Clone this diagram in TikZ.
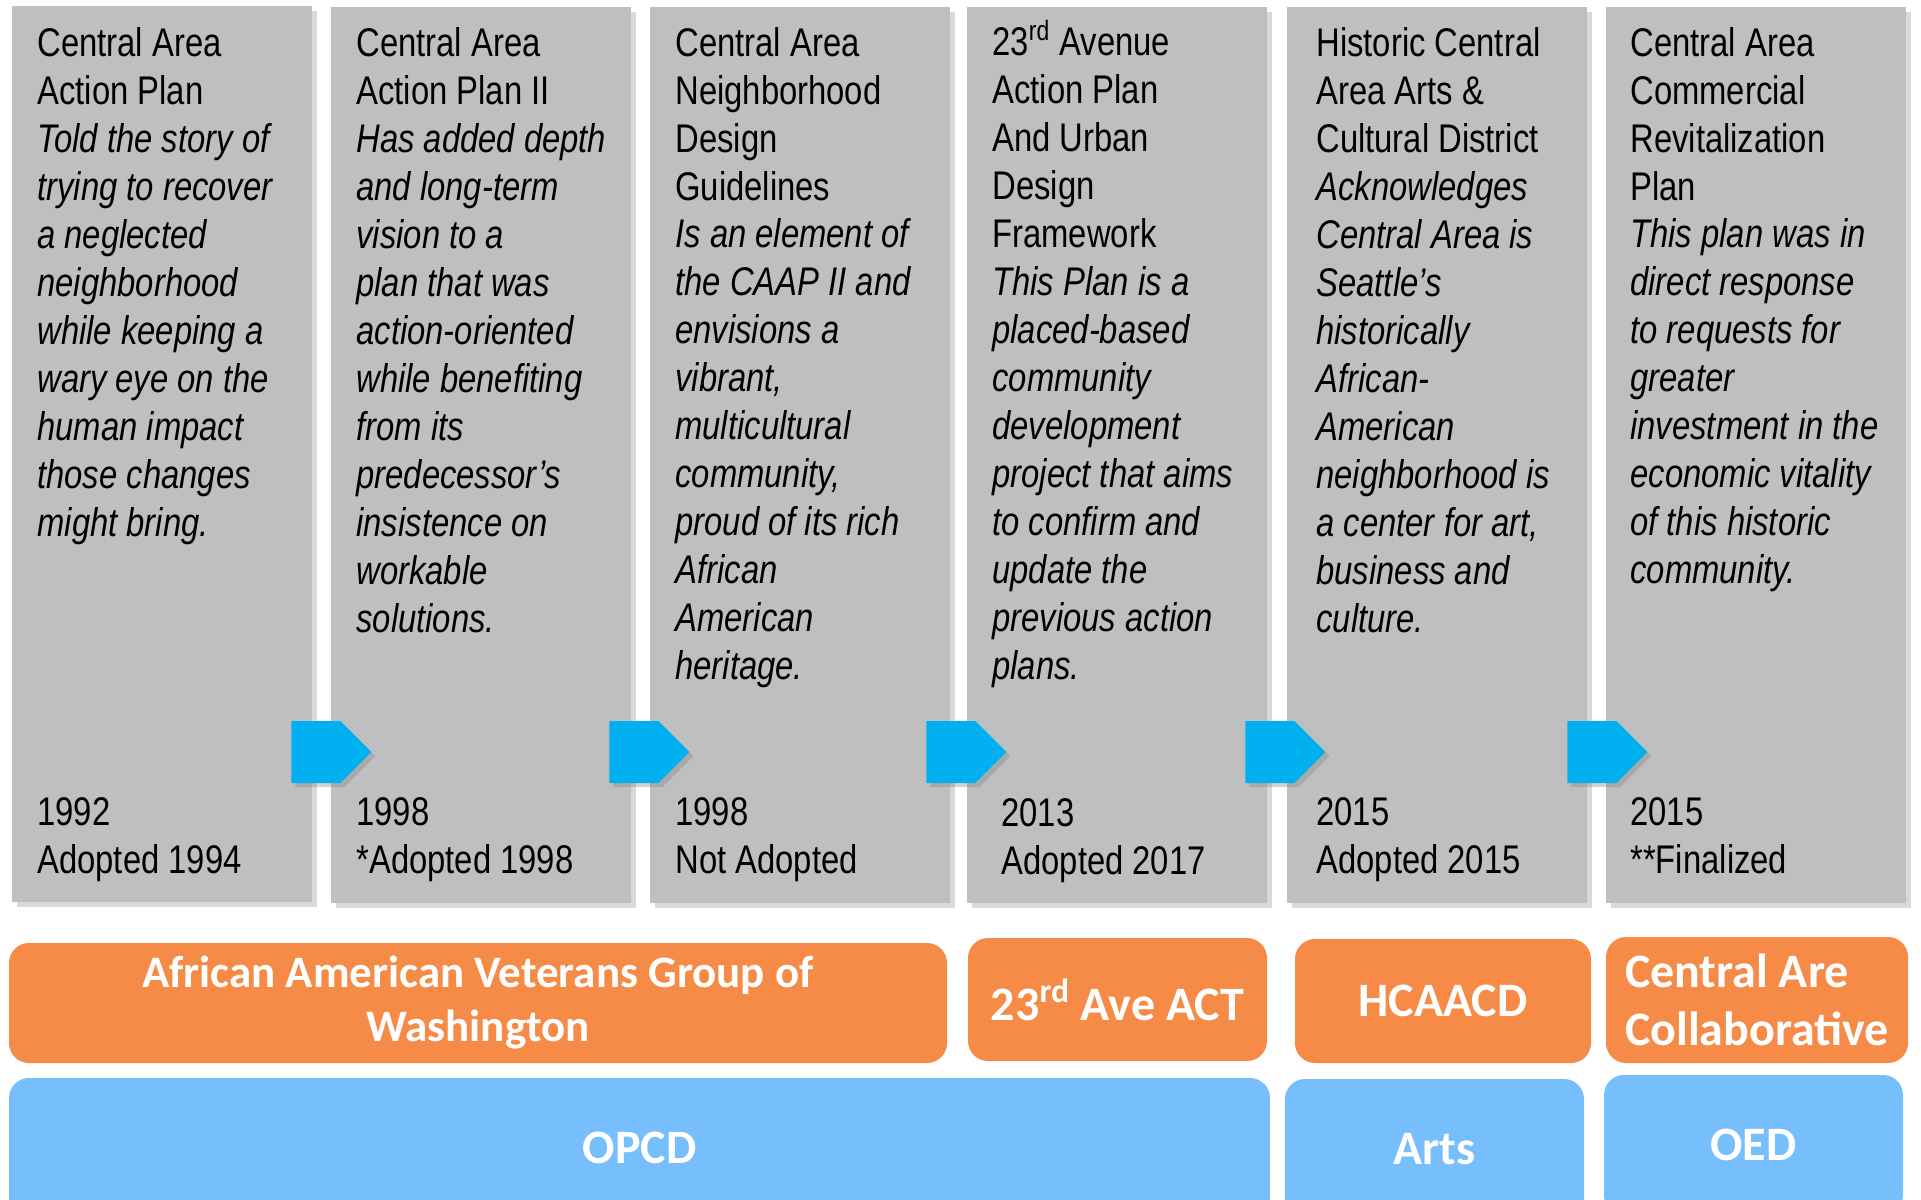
\documentclass[tikz,border=0pt]{standalone}
\usepackage{fontspec}
\newfontfamily\cond{Liberation Sans}[FakeStretch=0.82]
\newfontfamily\calib{Carlito}
\usetikzlibrary{shapes.symbols,shadows}
\definecolor{cardgray}{RGB}{191,191,191}
\definecolor{arrowblue}{RGB}{0,176,240}
\definecolor{partnerorange}{RGB}{246,139,71}
\definecolor{officeblue}{RGB}{118,190,252}
\begin{document}
\begin{tikzpicture}
[x=0.5pt,y=-0.5pt,
card/.style={rectangle,draw=none,fill=cardgray,minimum width=150pt,minimum height=448pt,inner sep=0pt,
  drop shadow={shadow xshift=2.5pt,shadow yshift=-2.5pt,opacity=.3}},
arrowbox/.style={signal,signal to=east,signal pointer angle=90,fill=arrowblue,minimum width=40pt,minimum height=31pt,inner sep=0pt,anchor=west,
  drop shadow={shadow xshift=2pt,shadow yshift=-2pt,opacity=.35}},
heading/.style={anchor=north west,align=left,inner sep=0pt,font=\cond\fontsize{20}{24}\selectfont},
blurb/.style={heading,font=\cond\itshape\fontsize{20}{24}\selectfont},
partner/.style={rectangle,rounded corners=10pt,fill=partnerorange,text=white,inner sep=0pt,font=\calib\bfseries\fontsize{24}{29}\selectfont},
office/.style={rectangle,rounded corners=10pt,fill=officeblue,text=white,inner sep=0pt,minimum width=149.5pt,minimum height=70pt,font=\calib\bfseries\fontsize{24}{29}\selectfont}
]
\useasboundingbox (0,0) rectangle (1921,1199);
\clip (0,0) rectangle (1921,1199);

\node[card] (c1) at (162,453.5){};
\node[card] (c2) at (481,454.5){};
\node[card] (c3) at (800,454.5){};
\node[card] (c4) at (1117,454.5){};
\node[card] (c5) at (1437,454.5){};
\node[card] (c6) at (1756,454.5){};

\node[heading] (h1) at (37,27){Central Area\\Action Plan};
\node[heading] (h2) at (356,27){Central Area\\Action Plan II};
\node[heading] (h3) at (675,27){Central Area\\Neighborhood\\Design\\Guidelines};
\node[heading] (h4) at (992,27){23\smash{\textsuperscript{rd}} Avenue\\Action Plan\\And Urban\\Design\\Framework};
\node[heading] (h5) at (1316,27){Historic Central\\Area Arts \&\\Cultural District};
\node[heading] (h6) at (1630,27){Central Area\\Commercial\\Revitalization\\Plan};

\node[blurb] (b1) at (37,122.8){Told the story of\\trying to recover\\a neglected\\neighborhood\\while keeping a\\wary eye on the\\human impact\\those changes\\might bring.};
\node[blurb] (b2) at (356,122.8){Has added depth\\and long-term\\vision to a\\plan that was\\action-oriented\\while benefiting\\from its\\predecessor’s\\insistence on\\workable\\solutions.};
\node[blurb] (b3) at (675,218.6){Is an element of\\the CAAP II and\\envisions a\\vibrant,\\multicultural\\community,\\proud of its rich\\African\\American\\heritage.};
\node[blurb] (b4) at (992,266.5){This Plan is a\\placed-based\\community\\development\\project that aims\\to confirm and\\update the\\previous action\\plans.};
\node[blurb] (b5) at (1316,170.7){Acknowledges\\Central Area is\\Seattle’s\\historically\\African-\\American\\neighborhood is\\a center for art,\\business and\\culture.};
\node[blurb] (b6) at (1630,218.6){This plan was in\\direct response\\to requests for\\greater\\investment in the\\economic vitality\\of this historic\\community.};

\node[heading] (y1) at (37,797){1992\\Adopted 1994};
\node[heading] (y2) at (356,797){1998\\*Adopted 1998};
\node[heading] (y3) at (675,797){1998\\Not Adopted};
\node[heading] (y4) at (1001,798){2013\\Adopted 2017};
\node[heading] (y5) at (1316,797){2015\\Adopted 2015};
\node[heading] (y6) at (1630,797){2015\\**Finalized};

\node[arrowbox] (a1) at (291,752){};
\node[arrowbox] (a2) at (609,752){};
\node[arrowbox] (a3) at (926,752){};
\node[arrowbox] (a4) at (1245,752){};
\node[arrowbox] (a5) at (1567,752){};

\node[partner,minimum width=469pt,minimum height=60pt,align=center,font=\calib\bfseries\fontsize{22.5}{27}\selectfont] (g1) at (478,1003){African American Veterans Group of\\Washington};
\node[partner,minimum width=149.5pt,minimum height=61.5pt] (g2) at (1117.5,999.5){23\textsuperscript{rd} Ave ACT};
\node[partner,minimum width=148pt,minimum height=62pt] (g3) at (1443,1001){HCAACD};
\node[partner,minimum width=151pt,minimum height=63pt,align=left] (g4) at (1757,1000){Central Are\\Collaborative};

\node[office,minimum width=630.5pt] (o1) at (639.5,1148){OPCD};
\node[office] (o2) at (1434.5,1149){Arts};
\node[office] (o3) at (1753.5,1145){OED};
\end{tikzpicture}
\end{document}
